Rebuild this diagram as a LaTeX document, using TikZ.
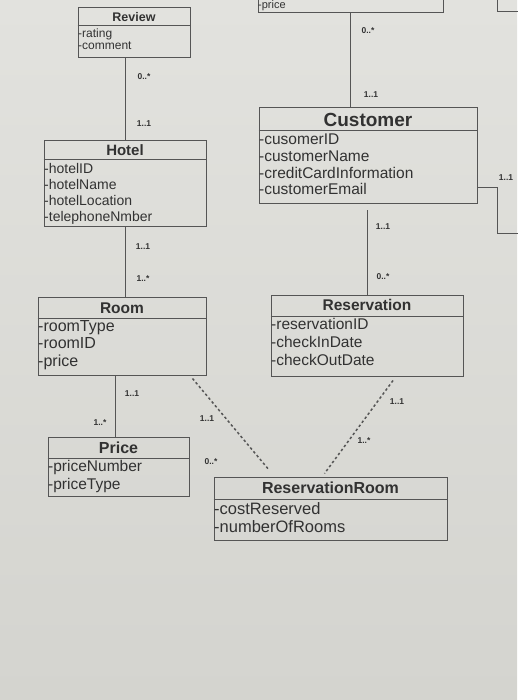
\documentclass[tikz,border=0pt]{standalone}
\usepackage{fontspec}
\setmainfont{Liberation Sans}
\usetikzlibrary{positioning}

\definecolor{papertop}{RGB}{226,226,222}
\definecolor{paperbot}{RGB}{212,212,207}
\definecolor{ink}{RGB}{50,50,50}
\definecolor{rule}{RGB}{85,85,85}

\begin{document}
\begin{tikzpicture}[x=1pt,y=-1pt,
    classbox/.style={rectangle,
          draw = rule,
          line width = 1pt,
          inner sep = 0pt},
    ctitle/.style={inner sep=0pt, text=ink},
    attrs/.style={inner sep=0pt, align=left, anchor=north west, text=ink},
    mult/.style={inner sep=0pt, text=ink, font=\fontsize{8.5}{9}\selectfont\bfseries},
    link/.style={draw=rule, line width=1pt},
    dotlink/.style={draw=rule, line width=1.5pt, dash pattern=on 2.5pt off 2.5pt}]

    \shade[use as bounding box, top color=papertop, bottom color=paperbot]
        (0,0) rectangle (517,700);

    % boxes cut by the top edge
    \node[classbox,
          minimum width = 185,
          minimum height = 53
          ] (pricetop) at (350.5,-13.5) {};
    \node[attrs, font=\fontsize{11}{12}\selectfont] (pricetopattrs) at (258,0.5) {-price};

    \node[classbox,
          minimum width = 63,
          minimum height = 52
          ] (topright) at (528.5,-14) {};

    % Review
    \node[classbox,
          minimum width = 112,
          minimum height = 50
          ] (review) at (134,33) {};
    \node[ctitle, font=\fontsize{12.5}{13}\selectfont\bfseries] (reviewtitle) at (review.north |- 0,17) {Review};
    \draw[link] (review.west |- 0,26) -- (review.east |- 0,26);
    \node[attrs, font=\fontsize{12}{12}\selectfont] (reviewattrs) at (78,28.5) {-rating\\-comment};

    % Hotel
    \node[classbox,
          minimum width = 162,
          minimum height = 86
          ] (hotel) at (125,184) {};
    \node[ctitle, font=\fontsize{15}{16}\selectfont\bfseries] (hoteltitle) at (hotel.north |- 0,150) {Hotel};
    \draw[link] (hotel.west |- 0,160) -- (hotel.east |- 0,160);
    \node[attrs, font=\fontsize{14}{16}\selectfont] (hotelattrs) at (44,163)
        {-hotelID\\-hotelName\\-hotelLocation\\-telephoneNmber};

    % Customer
    \node[classbox,
          minimum width = 218,
          minimum height = 96
          ] (customer) at (368,156) {};
    \node[ctitle, font=\fontsize{19}{20}\selectfont\bfseries] (customertitle) at (customer.north |- 0,120) {Customer};
    \draw[link] (customer.west |- 0,131) -- (customer.east |- 0,131);
    \node[attrs, font=\fontsize{15.5}{16.7}\selectfont] (customerattrs) at (259,134)
        {-cusomerID\\-customerName\\-creditCardInformation\\-customerEmail};

    % Room
    \node[classbox,
          minimum width = 168,
          minimum height = 78
          ] (room) at (122,336) {};
    \node[ctitle, font=\fontsize{15.5}{16}\selectfont\bfseries] (roomtitle) at (room.north |- 0,308) {Room};
    \draw[link] (room.west |- 0,318) -- (room.east |- 0,318);
    \node[attrs, font=\fontsize{16}{17.5}\selectfont] (roomattrs) at (38,320)
        {-roomType\\-roomID\\-price};

    % Reservation
    \node[classbox,
          minimum width = 192,
          minimum height = 81
          ] (reservation) at (367,335.5) {};
    \node[ctitle, font=\fontsize{15.5}{16}\selectfont\bfseries] (reservationtitle) at (reservation.north |- 0,305) {Reservation};
    \draw[link] (reservation.west |- 0,316) -- (reservation.east |- 0,316);
    \node[attrs, font=\fontsize{15.5}{18}\selectfont] (reservationattrs) at (271,318)
        {-reservationID\\-checkInDate\\-checkOutDate};

    % Price
    \node[classbox,
          minimum width = 141,
          minimum height = 59
          ] (price) at (118.5,466.5) {};
    \node[ctitle, font=\fontsize{16}{17}\selectfont\bfseries] (pricetitle) at (price.north |- 0,448) {Price};
    \draw[link] (price.west |- 0,458) -- (price.east |- 0,458);
    \node[attrs, font=\fontsize{15.5}{18}\selectfont] (priceattrs) at (48,460)
        {-priceNumber\\-priceType};

    % ReservationRoom
    \node[classbox,
          minimum width = 233,
          minimum height = 63
          ] (resroom) at (330.5,508.5) {};
    \node[ctitle, font=\fontsize{16}{17}\selectfont\bfseries] (resroomtitle) at (resroom.north |- 0,488) {ReservationRoom};
    \draw[link] (resroom.west |- 0,499) -- (resroom.east |- 0,499);
    \node[attrs, font=\fontsize{16.5}{18}\selectfont] (resroomattrs) at (214,502.5)
        {-costReserved\\-numberOfRooms};

    % associations
    \coordinate (rightbend) at (497,188);
    \coordinate (offright) at (520,234);

    \draw[link] (pricetop.south) -- (pricetop.south |- customer.north);
    \draw[link] (hotel.north |- review.south) -- (hotel.north);
    \draw[link] (hotel.south) -- (hotel.south |- room.north);
    \draw[link] ([xshift=-3pt]price.north |- room.south) -- ([xshift=-3pt]price.north);
    \draw[link] ([yshift=-6pt]customer.south -| reservation.north) -- (reservation.north);
    \draw[link] (customer.east |- rightbend) -- (rightbend) |- (offright);
    \draw[dotlink] ([xshift=-14pt,yshift=-3pt]room.south east) -- ([xshift=56pt,yshift=6pt]resroom.north west);
    \draw[dotlink] ([xshift=26pt,yshift=-4pt]reservation.south) -- ([xshift=-6pt,yshift=3pt]resroom.north);

    % multiplicities
    \node[mult] (m1) at (368,31) {0..*};
    \node[mult] (m2) at (371,95) {1..1};
    \node[mult] (m3) at (144,77) {0..*};
    \node[mult] (m4) at (144,124) {1..1};
    \node[mult] (m5) at (143,247) {1..1};
    \node[mult] (m6) at (143,279) {1..*};
    \node[mult] (m7) at (132,394) {1..1};
    \node[mult] (m8) at (100,423) {1..*};
    \node[mult] (m9) at (383,227) {1..1};
    \node[mult] (m10) at (383,277) {0..*};
    \node[mult] (m11) at (506,178) {1..1};
    \node[mult] (m12) at (207,419) {1..1};
    \node[mult] (m13) at (211,462) {0..*};
    \node[mult] (m14) at (397,402) {1..1};
    \node[mult] (m15) at (364,441) {1..*};

\end{tikzpicture}
\end{document}
